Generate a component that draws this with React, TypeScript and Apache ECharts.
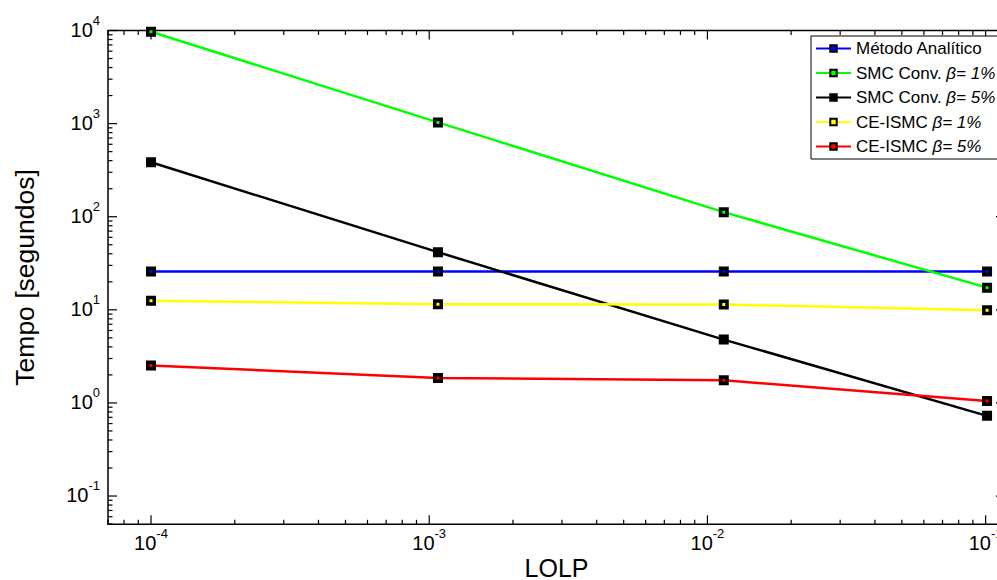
import React, { useEffect, useRef } from 'react';
import * as echarts from 'echarts';

// ---- data ----
const lolp = [1e-4, 1.075e-3, 1.145e-2, 0.1012];
const metodoAnalitico = [25.8, 25.8, 25.8, 25.8];
const smcConv1 = [9700, 1030, 112, 17.3];
const smcConv5 = [384, 41.6, 4.79, 0.726];
const ceIsmc1 = [12.5, 11.5, 11.4, 9.9];
const ceIsmc5 = [2.52, 1.85, 1.75, 1.05];

const seriesNames = [
  'Método Analítico',
  'SMC Conv. β= 1%',
  'SMC Conv. β= 5%',
  'CE-ISMC β= 1%',
  'CE-ISMC β= 5%',
];
const seriesValues = [metodoAnalitico, smcConv1, smcConv5, ceIsmc1, ceIsmc5];
const seriesColors = ['#0000ff', '#00ff00', '#000000', '#ffff00', '#ff0000'];

// axis ranges and tick positions
const xMin = 7.005e-5;
const xMax = 0.1174;
const yMin = 0.0497;
const yMax = 1e4;
const xDecades = [-5, -4, -3, -2, -1];
const yDecades = [-2, -1, 0, 1, 2, 3, 4];
const minorMultipliers = [2, 3, 4, 5, 6, 7, 8, 9];

const FONT = 'Liberation Sans';

function buildTicks() {
  const out: number[][] = [];
  const inX = (v: number) => v >= xMin * 0.999 && v <= xMax * 1.001;
  const inY = (v: number) => v >= yMin * 0.999 && v <= yMax * 1.001;
  xDecades.forEach((d) => {
    const base = Math.pow(10, d);
    if (inX(base)) out.push([base, 1, 0, d]);
    minorMultipliers.forEach((m) => {
      const v = m * base;
      if (inX(v)) out.push([v, 1, 1, 0]);
    });
  });
  yDecades.forEach((d) => {
    const base = Math.pow(10, d);
    if (inY(base)) out.push([1e-3, base, 2, d]);
    minorMultipliers.forEach((m) => {
      const v = m * base;
      if (inY(v)) out.push([1e-3, v, 3, 0]);
    });
  });
  return out;
}

const labelRich = {
  b: { fontSize: 20, fontFamily: FONT, fill: '#000', lineHeight: 26, verticalAlign: 'bottom' },
  s: { fontSize: 13, fontFamily: FONT, fill: '#000', lineHeight: 26, verticalAlign: 'top' },
};

export default function App() {
  const ref = useRef<HTMLDivElement>(null);
  useEffect(() => {
    if (!ref.current) return;
    const chart = echarts.init(ref.current, undefined, { renderer: 'svg' });
    const lineSeries = seriesNames.map((name, i) => ({
      name,
      type: 'line',
      data: lolp.map((x, j) => [x, seriesValues[i][j]]),
      symbol: 'rect',
      symbolSize: 6.5,
      showSymbol: true,
      clip: false,
      lineStyle: { color: seriesColors[i], width: 2.5 },
      itemStyle: { color: seriesColors[i], borderColor: '#000', borderWidth: 3.5 },
      z: 3,
    }));
    const tickSeries = {
      type: 'custom',
      silent: true,
      clip: false,
      z: 1,
      data: buildTicks(),
      encode: { x: 0, y: 1 },
      renderItem: (params: any, api: any) => {
        const kind = api.value(2);
        const expo = api.value(3);
        const cs = params.coordSys;
        const len = kind % 2 === 0 ? 9 : 4.5;
        const style = { stroke: '#000', lineWidth: 1.2 };
        const children: any[] = [];
        if (kind < 2) {
          const x = api.coord([api.value(0), 1])[0];
          const yb = cs.y + cs.height;
          children.push(
            { type: 'line', shape: { x1: x, y1: yb, x2: x, y2: yb - len }, style },
            { type: 'line', shape: { x1: x, y1: cs.y, x2: x, y2: cs.y + len }, style },
          );
          if (kind === 0) {
            children.push({
              type: 'text',
              x,
              y: yb + 3,
              style: {
                text: `{b|10}{s|${expo}}`,
                rich: labelRich,
                align: 'center',
                verticalAlign: 'top',
              },
            });
          }
        } else {
          const y = api.coord([1e-3, api.value(1)])[1];
          const xr = cs.x + cs.width;
          children.push(
            { type: 'line', shape: { x1: cs.x, y1: y, x2: cs.x + len, y2: y }, style },
            { type: 'line', shape: { x1: xr, y1: y, x2: xr - len, y2: y }, style },
          );
          if (kind === 2) {
            children.push({
              type: 'text',
              x: cs.x - 8,
              y: y - 4,
              style: {
                text: `{b|10}{s|${expo}}`,
                rich: labelRich,
                align: 'right',
                verticalAlign: 'middle',
              },
            });
          }
        }
        return { type: 'group', children };
      },
    };
    chart.setOption({
      animation: false,
      backgroundColor: '#fff',
      textStyle: { fontFamily: FONT },
      grid: {
        left: 108,
        top: 30.5,
        width: 897,
        height: 493.8,
        containLabel: false,
        outerBoundsMode: 'none',
        show: true,
        borderColor: '#000',
        borderWidth: 1.5,
        backgroundColor: 'transparent',
      },
      legend: {
        data: seriesNames,
        orient: 'vertical',
        left: 811,
        top: 36,
        padding: [4, 30, 4, 4],
        itemGap: 7.5,
        itemWidth: 35,
        itemHeight: 8.1,
        selectedMode: false,
        backgroundColor: '#fff',
        borderColor: '#000',
        borderWidth: 1,
        borderRadius: 0,
        formatter: (name: string) => name.replace(/β= \d%/, (m) => `{i|${m}}`),
        textStyle: {
          fontSize: 17,
          fontFamily: FONT,
          color: '#000',
          rich: { i: { fontSize: 17, fontFamily: FONT, fontStyle: 'italic', color: '#000' } },
        },
      },
      xAxis: {
        type: 'log',
        logBase: 10,
        min: xMin,
        max: xMax,
        name: 'LOLP',
        nameLocation: 'middle',
        nameGap: 31,
        nameTextStyle: { fontSize: 25, fontFamily: FONT, color: '#000' },
        axisLine: { show: false },
        axisTick: { show: false },
        splitLine: { show: false },
        minorTick: { show: false },
        axisLabel: { show: false },
      },
      yAxis: {
        type: 'log',
        logBase: 10,
        min: yMin,
        max: yMax,
        name: 'Tempo [segundos]',
        nameLocation: 'middle',
        nameGap: 70,
        nameRotate: 90,
        nameTextStyle: { fontSize: 26.5, fontFamily: FONT, color: '#000' },
        axisLine: { show: false },
        axisTick: { show: false },
        splitLine: { show: false },
        axisLabel: { show: false },
      },
      series: [tickSeries, ...lineSeries],
    });
    return () => chart.dispose();
  }, []);
  return (
    <div
      style={{
        position: 'fixed',
        left: 0,
        top: 0,
        width: 997,
        height: 580,
        overflow: 'hidden',
        background: '#fff',
      }}
    >
      <div ref={ref} style={{ width: 1012, height: 580 }} />
    </div>
  );
}
